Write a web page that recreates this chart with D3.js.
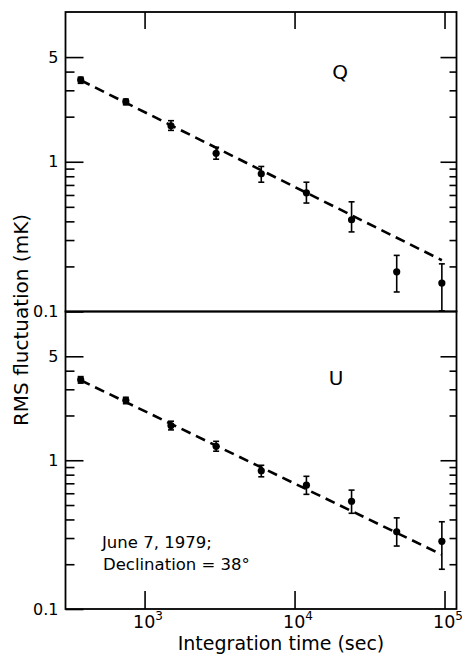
<!DOCTYPE html>
<html>
<head>
<meta charset="utf-8">
<script src="https://cdn.jsdelivr.net/npm/d3@7"></script>
<style>
  body { margin: 0; background: #fff; }
  svg { display: block; font-family: "DejaVu Sans", sans-serif; }
</style>
</head>
<body>
<svg id="chart" width="462" height="664"></svg>
<script>
// integration times (sec)
const times = [375, 750, 1500, 3000, 6000, 12000, 24000, 48000, 96000];

// Q panel
const qVals = [3.52, 2.52, 1.74, 1.14, 0.83, 0.62, 0.41, 0.184, 0.155];
const qLow = [3.34, 2.40, 1.62, 1.04, 0.73, 0.53, 0.34, 0.135, 0.101];
const qHigh = [3.67, 2.62, 1.88, 1.25, 0.93, 0.73, 0.54, 0.237, 0.208];
const qFit = [[375, 3.5], [96000, 0.22]];

// U panel
const uVals = [3.48, 2.53, 1.71, 1.24, 0.85, 0.68, 0.53, 0.33, 0.285];
const uLow = [3.30, 2.40, 1.60, 1.15, 0.774, 0.59, 0.44, 0.265, 0.185];
const uHigh = [3.65, 2.65, 1.83, 1.34, 0.925, 0.78, 0.63, 0.41, 0.386];
const uFit = [[375, 3.45], [96000, 0.232]];

const yMajor = [0.1, 1, 5];
const yMinor = [0.2, 0.3, 0.4, 0.5, 0.6, 0.7, 0.8, 0.9, 2, 3, 4];
const xMajor = [1e3, 1e4, 1e5];

let svg = d3.select('#chart');
let left = 65.5, right = 456.5;

let x = d3.scaleLog().domain([297, 120200]).range([left, right]);

let panels = [
    {name: 'Q', vals: qVals, low: qLow, high: qHigh, fit: qFit, top: 12, bottom: 311.5, lx: 340, ly: 79},
    {name: 'U', vals: uVals, low: uLow, high: uHigh, fit: uFit, top: 311.5, bottom: 609, lx: 336, ly: 385},
];

panels.forEach((p, pi) => {
    let y = d3.scaleLog().domain([0.1, 10]).range([p.bottom, p.top]);
    let g = svg.append('g');

    // left axis, ticks pointing inward
    let yl = g.append('g').attr('transform', `translate(${left},0)`)
        .call(d3.axisLeft(y).tickValues(yMajor).tickSize(-18).tickPadding(7)
            .tickFormat(d => d < 1 ? '0.1' : String(d)));
    yl.append('g').call(d3.axisLeft(y).tickValues(yMinor).tickSize(-9).tickFormat(''));
    yl.selectAll('.domain').remove();
    yl.selectAll('text').attr('font-size', 16).attr('fill', '#000')
        .attr('font-family', '"DejaVu Sans", sans-serif');

    // right axis
    let yr = g.append('g').attr('transform', `translate(${right},0)`)
        .call(d3.axisRight(y).tickValues(yMajor.filter(v => v > 0.1)).tickSize(-16).tickFormat(''));
    yr.append('g').call(d3.axisRight(y).tickValues(yMinor).tickSize(-7).tickFormat(''));
    yr.selectAll('.domain').remove();

    g.selectAll('.tick line').attr('stroke', '#000').attr('stroke-width', 1.6);

    // x ticks on the outer edges only
    if (pi === 0) {
        let xt = g.append('g').attr('transform', `translate(0,${p.top})`)
            .call(d3.axisTop(x).tickValues(xMajor).tickSize(-17).tickFormat(''));
        xt.selectAll('.domain').remove();
        xt.selectAll('.tick line').attr('stroke', '#000').attr('stroke-width', 1.6);
    } else {
        let xb = g.append('g').attr('transform', `translate(0,${p.bottom})`)
            .call(d3.axisBottom(x).tickValues(xMajor).tickSize(-18).tickPadding(0).tickFormat(''));
        xb.selectAll('.domain').remove();
        xb.selectAll('.tick line').attr('stroke', '#000').attr('stroke-width', 1.6);
        xb.selectAll('.tick').append('text')
            .attr('x', -12).attr('y', 19)
            .attr('fill', '#000').attr('font-size', 17.5).attr('text-anchor', 'start')
            .attr('font-family', '"DejaVu Sans", sans-serif')
            .each(function (d) {
                let t = d3.select(this);
                t.append('tspan').text('10');
                t.append('tspan').attr('dy', -8).attr('font-size', 12).text(Math.round(Math.log10(d)));
            });
    }

    // frame
    g.append('rect')
        .attr('x', left).attr('y', p.top)
        .attr('width', right - left).attr('height', p.bottom - p.top)
        .attr('fill', 'none').attr('stroke', '#000').attr('stroke-width', 1.8);

    // fit line
    g.append('path')
        .attr('d', d3.line().x(d => x(d[0])).y(d => y(d[1]))(p.fit))
        .attr('fill', 'none').attr('stroke', '#000')
        .attr('stroke-width', 2.6).attr('stroke-dasharray', '10,6');

    // error bars
    let eb = g.append('g').attr('stroke', '#000').attr('stroke-width', 1.6);
    times.forEach((t, i) => {
        let cx = x(t);
        eb.append('line').attr('x1', cx).attr('x2', cx).attr('y1', y(p.low[i])).attr('y2', y(p.high[i]));
        eb.append('line').attr('x1', cx - 3).attr('x2', cx + 3).attr('y1', y(p.low[i])).attr('y2', y(p.low[i]));
        eb.append('line').attr('x1', cx - 3).attr('x2', cx + 3).attr('y1', y(p.high[i])).attr('y2', y(p.high[i]));
    });

    // points
    g.selectAll('circle.pt').data(p.vals).enter().append('circle')
        .attr('class', 'pt')
        .attr('cx', (d, i) => x(times[i]))
        .attr('cy', d => y(d))
        .attr('r', 3.6)
        .attr('fill', '#000');

    g.append('text').attr('x', p.lx).attr('y', p.ly)
        .attr('text-anchor', 'middle').attr('font-size', 20).attr('fill', '#000')
        .text(p.name);
});

// axis titles
svg.append('text')
    .attr('transform', 'translate(28,320) rotate(-90)')
    .attr('text-anchor', 'middle').attr('font-size', 20).attr('fill', '#000')
    .text('RMS fluctuation (mK)');

svg.append('text')
    .attr('x', 281).attr('y', 649.5)
    .attr('text-anchor', 'middle').attr('font-size', 19).attr('fill', '#000')
    .text('Integration time (sec)');

// annotation
svg.append('text').attr('x', 102).attr('y', 548)
    .attr('font-size', 16.5).attr('fill', '#000')
    .text('June 7, 1979;');
svg.append('text').attr('x', 103).attr('y', 570)
    .attr('font-size', 16.5).attr('fill', '#000')
    .text('Declination = 38°');
</script>
</body>
</html>
